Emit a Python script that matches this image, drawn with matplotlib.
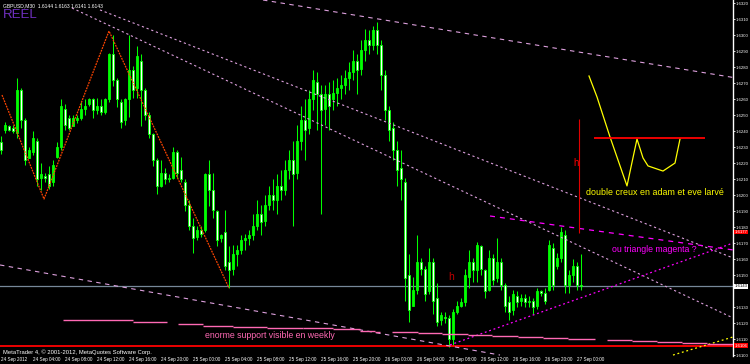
import matplotlib
matplotlib.use("Agg")
import matplotlib.pyplot as plt
import numpy as np
from matplotlib.transforms import blended_transform_factory

# ---------------- data ----------------
symbol = "GBPUSD,M30"

opens = [1.6233, 1.6241, 1.6243, 1.6242, 1.6239, 1.6266, 1.6247, 1.6223, 1.6227, 1.6234,
         1.6211, 1.6212, 1.6213, 1.6208, 1.6224, 1.6230, 1.6254, 1.6248, 1.6243, 1.6247,
         1.6248, 1.6254, 1.6257, 1.6260, 1.6253, 1.6256, 1.6252, 1.6260, 1.6288, 1.6272,
         1.6258, 1.6247, 1.6260, 1.6278, 1.6267, 1.6284, 1.6266, 1.6250, 1.6238, 1.6222,
         1.6206, 1.6214, 1.6210, 1.6211, 1.6227, 1.6216, 1.6208, 1.6194, 1.6181, 1.6174,
         1.6178, 1.6178, 1.6213, 1.6203, 1.6190, 1.6173, 1.6177, 1.6158, 1.6154, 1.6163,
         1.6166, 1.6172, 1.6173, 1.6175, 1.6181, 1.6188, 1.6184, 1.6194, 1.6200, 1.6197,
         1.6206, 1.6203, 1.6216, 1.6222, 1.6214, 1.6234, 1.6247, 1.6242, 1.6260, 1.6271,
         1.6263, 1.6254, 1.6263, 1.6260, 1.6264, 1.6267, 1.6269, 1.6273, 1.6277, 1.6284,
         1.6279, 1.6291, 1.6297, 1.6294, 1.6303, 1.6294, 1.6275, 1.6253, 1.6242, 1.6228,
         1.6217, 1.6208, 1.6150, 1.6131, 1.6141, 1.6158, 1.6154, 1.6140, 1.6158, 1.6136,
         1.6122, 1.6124, 1.6123, 1.6110, 1.6127, 1.6131, 1.6133, 1.6149, 1.6158, 1.6153,
         1.6168, 1.6153, 1.6141, 1.6161, 1.6148, 1.6158, 1.6144, 1.6133, 1.6128, 1.6137,
         1.6134, 1.6136, 1.6133, 1.6134, 1.6131, 1.6140, 1.6139, 1.6141, 1.6167, 1.6156,
         1.6161, 1.6175, 1.6144, 1.6150, 1.6156, 1.6144]
closes = [1.6228, 1.6244, 1.6241, 1.6240, 1.6266, 1.6247, 1.6222, 1.6228, 1.6236, 1.6210,
          1.6213, 1.6211, 1.6206, 1.6219, 1.6230, 1.6256, 1.6244, 1.6242, 1.6248, 1.6248,
          1.6254, 1.6256, 1.6260, 1.6253, 1.6256, 1.6252, 1.6260, 1.6288, 1.6272, 1.6260,
          1.6246, 1.6260, 1.6278, 1.6266, 1.6287, 1.6266, 1.6250, 1.6238, 1.6222, 1.6206,
          1.6214, 1.6210, 1.6211, 1.6227, 1.6214, 1.6210, 1.6194, 1.6181, 1.6173, 1.6178,
          1.6176, 1.6213, 1.6203, 1.6191, 1.6172, 1.6175, 1.6156, 1.6153, 1.6163, 1.6166,
          1.6172, 1.6173, 1.6175, 1.6181, 1.6188, 1.6183, 1.6194, 1.6200, 1.6197, 1.6206,
          1.6203, 1.6216, 1.6222, 1.6213, 1.6234, 1.6247, 1.6241, 1.6260, 1.6272, 1.6263,
          1.6253, 1.6263, 1.6256, 1.6264, 1.6267, 1.6269, 1.6273, 1.6277, 1.6284, 1.6278,
          1.6291, 1.6297, 1.6294, 1.6303, 1.6294, 1.6275, 1.6253, 1.6241, 1.6228, 1.6216,
          1.6210, 1.6148, 1.6128, 1.6141, 1.6158, 1.6154, 1.6138, 1.6158, 1.6134, 1.6121,
          1.6125, 1.6123, 1.6110, 1.6127, 1.6131, 1.6133, 1.6150, 1.6158, 1.6153, 1.6169,
          1.6154, 1.6140, 1.6161, 1.6147, 1.6158, 1.6144, 1.6131, 1.6127, 1.6138, 1.6133,
          1.6136, 1.6133, 1.6134, 1.6130, 1.6140, 1.6139, 1.6134, 1.6169, 1.6144, 1.6161,
          1.6177, 1.6144, 1.6150, 1.6156, 1.6144, 1.6143]
highs = [1.6237, 1.6246, 1.6244, 1.6244, 1.6273, 1.6267, 1.6248, 1.6230, 1.6240, 1.6236,
         1.6220, 1.6214, 1.6218, 1.6222, 1.6233, 1.6260, 1.6257, 1.6250, 1.6250, 1.6250,
         1.6258, 1.6260, 1.6261, 1.6261, 1.6261, 1.6260, 1.6261, 1.6289, 1.6300, 1.6273,
         1.6260, 1.6261, 1.6300, 1.6281, 1.6293, 1.6288, 1.6267, 1.6252, 1.6239, 1.6223,
         1.6222, 1.6217, 1.6213, 1.6230, 1.6228, 1.6224, 1.6210, 1.6197, 1.6186, 1.6181,
         1.6181, 1.6214, 1.6222, 1.6214, 1.6191, 1.6176, 1.6191, 1.6168, 1.6169, 1.6169,
         1.6175, 1.6176, 1.6178, 1.6188, 1.6197, 1.6194, 1.6200, 1.6206, 1.6210, 1.6213,
         1.6216, 1.6222, 1.6228, 1.6234, 1.6244, 1.6256, 1.6260, 1.6266, 1.6278, 1.6277,
         1.6269, 1.6269, 1.6271, 1.6272, 1.6273, 1.6275, 1.6278, 1.6283, 1.6291, 1.6288,
         1.6297, 1.6304, 1.6303, 1.6306, 1.6308, 1.6297, 1.6278, 1.6256, 1.6246, 1.6234,
         1.6228, 1.6211, 1.6163, 1.6149, 1.6175, 1.6161, 1.6156, 1.6167, 1.6161, 1.6145,
         1.6127, 1.6127, 1.6125, 1.6129, 1.6134, 1.6136, 1.6154, 1.6166, 1.6161, 1.6171,
         1.6169, 1.6154, 1.6166, 1.6163, 1.6173, 1.6161, 1.6145, 1.6137, 1.6141, 1.6140,
         1.6138, 1.6138, 1.6137, 1.6136, 1.6142, 1.6141, 1.6142, 1.6172, 1.6170, 1.6164,
         1.6180, 1.6178, 1.6153, 1.6160, 1.6158, 1.6163]
lows = [1.6226, 1.6239, 1.6240, 1.6239, 1.6236, 1.6242, 1.6219, 1.6223, 1.6225, 1.6206,
        1.6203, 1.6208, 1.6204, 1.6206, 1.6223, 1.6228, 1.6241, 1.6241, 1.6243, 1.6245,
        1.6247, 1.6250, 1.6256, 1.6248, 1.6251, 1.6250, 1.6251, 1.6258, 1.6268, 1.6255,
        1.6242, 1.6244, 1.6249, 1.6261, 1.6261, 1.6243, 1.6247, 1.6236, 1.6218, 1.6201,
        1.6205, 1.6207, 1.6208, 1.6210, 1.6211, 1.6208, 1.6190, 1.6178, 1.6164, 1.6172,
        1.6174, 1.6177, 1.6193, 1.6186, 1.6168, 1.6171, 1.6153, 1.6142, 1.6150, 1.6156,
        1.6163, 1.6166, 1.6169, 1.6172, 1.6178, 1.6175, 1.6181, 1.6191, 1.6191, 1.6188,
        1.6197, 1.6200, 1.6210, 1.6181, 1.6210, 1.6228, 1.6222, 1.6238, 1.6253, 1.6241,
        1.6188, 1.6244, 1.6241, 1.6253, 1.6256, 1.6260, 1.6263, 1.6266, 1.6272, 1.6263,
        1.6275, 1.6284, 1.6288, 1.6291, 1.6288, 1.6266, 1.6247, 1.6234, 1.6222, 1.6206,
        1.6197, 1.6134, 1.6121, 1.6131, 1.6138, 1.6150, 1.6134, 1.6138, 1.6126, 1.6118,
        1.6119, 1.6120, 1.6105, 1.6106, 1.6126, 1.6130, 1.6131, 1.6142, 1.6146, 1.6146,
        1.6150, 1.6136, 1.6140, 1.6144, 1.6146, 1.6141, 1.6127, 1.6122, 1.6125, 1.6130,
        1.6131, 1.6130, 1.6130, 1.6126, 1.6129, 1.6137, 1.6132, 1.6140, 1.6141, 1.6154,
        1.6158, 1.6139, 1.6139, 1.6146, 1.6141, 1.6141]

time_labels = ["24 Sep 2012", "24 Sep 04:00", "24 Sep 08:00", "24 Sep 12:00", "24 Sep 16:00",
               "24 Sep 20:00", "25 Sep 00:00", "25 Sep 04:00", "25 Sep 08:00", "25 Sep 12:00",
               "25 Sep 16:00", "25 Sep 20:00", "26 Sep 00:00", "26 Sep 04:00", "26 Sep 08:00",
               "26 Sep 12:00", "26 Sep 16:00", "26 Sep 20:00", "27 Sep 00:00"]
bars_per_label = 8

price_levels = [1.6320, 1.6310, 1.6300, 1.6290, 1.6280, 1.6270, 1.6260, 1.6250, 1.6240,
                1.6230, 1.6220, 1.6210, 1.6200, 1.6190, 1.6180, 1.6170, 1.6160, 1.6150,
                1.6130, 1.6120, 1.6110, 1.6100]

bid_price = closes[-1]
support_red_price = 1.6106
alert_red_price = 1.6177

# drawn objects (bar index, price)
zigzag_idx = [0.25, 10.75, 27.0, 57.0]
zigzag_price = [1.62626, 1.61976, 1.63026, 1.61420]

plum_dotted_lines = [((17.75, 1.63170), (183.0, 1.61233)),
                     ((24.75, 1.63158), (183.0, 1.61608))]
plum_dashed_lines = [((65.5, 1.63220), (183.0, 1.62736)),
                     ((-0.25, 1.61564), (124.75, 1.61001))]
magenta_dotted_line = ((112.25, 1.61064), (183.0, 1.61701))
magenta_dashed_line = ((122.25, 1.61870), (183.0, 1.61658))
yellow_dotted_line = ((168.0, 1.61001), (183.0, 1.61114))

weekly_step_start = [15.5, 33.0, 44.25, 50.5, 58.0, 66.5, 75.5, 83.0, 89.75, 93.5, 97.75,
                     104.25, 110.25, 116.75, 122.75, 129.25, 135.5, 141.75, 151.5, 157.75,
                     164.0, 170.25, 176.5]
weekly_step_end = [33.0, 41.5, 50.5, 58.0, 66.5, 75.5, 83.0, 89.75, 93.5, 94.75, 104.25,
                   110.25, 116.75, 122.75, 129.25, 135.5, 141.75, 148.5, 157.75, 164.0,
                   170.25, 176.5, 183.0]
weekly_step_price = [1.61220, 1.61208, 1.61195, 1.61183, 1.61176, 1.61173, 1.61170, 1.61164,
                     1.61151, 1.61145, 1.61145, 1.61139, 1.61133, 1.61126, 1.61120, 1.61114,
                     1.61108, 1.61101, 1.61095, 1.61089, 1.61083, 1.61076, 1.61070]

sketch_idx = [147.0, 149.0, 152.25, 154.25, 156.5, 157.5, 159.0, 160.5, 161.75, 165.5, 168.5, 169.75]
sketch_price = [1.62745, 1.62614, 1.62364, 1.62220, 1.62058, 1.62176, 1.62351, 1.62233,
                1.62183, 1.62151, 1.62201, 1.62351]
neckline = ((148.25, 176.0), 1.62358)
height_line = (144.5, 1.61764, 1.62476)

# ---------------- figure ----------------
W, H = 750, 364
fig = plt.figure(figsize=(W / 100, H / 100), dpi=100, facecolor="black")
ax = fig.add_axes([0, 8 / H, 733 / W, 356 / H], facecolor="black")
PRICE_TOP = 1.6322
PRICE_BOT = 1.6322 - 356 / 16000
ax.set_xlim(-0.25, 183.0)
ax.set_ylim(PRICE_BOT, PRICE_TOP)

FONT = "Liberation Sans"

o = np.array(opens); c = np.array(closes); h = np.array(highs); l = np.array(lows)
x = np.arange(len(o))
up = c >= o
lime = "#00ff00"
ax.vlines(x, l, h, color=lime, lw=0.75, zorder=2)
bottom = np.minimum(o, c)
height = np.maximum(np.abs(c - o), 0.00004)
ax.bar(x[up], height[up], 0.55, bottom=bottom[up], color=lime, edgecolor=lime, lw=0.6, zorder=2.1)
ax.bar(x[~up], height[~up], 0.55, bottom=bottom[~up], color="white", edgecolor=lime, lw=0.6, zorder=2.1)

# horizontal lines
ax.axhline(bid_price, color="#778899", lw=0.9, zorder=1.5)
ax.axhline(support_red_price, color="#ff0000", lw=1.3, zorder=3)

# zigzag
ax.plot(zigzag_idx, zigzag_price, color="#ff4500", lw=0.9, ls=(0, (1.5, 0.8)), zorder=3)

plum = "#dda0dd"
for (p0, p1) in plum_dotted_lines:
    ax.plot([p0[0], p1[0]], [p0[1], p1[1]], color=plum, lw=0.8, ls=(0, (2, 2.5)), zorder=3)
for (p0, p1) in plum_dashed_lines:
    ax.plot([p0[0], p1[0]], [p0[1], p1[1]], color=plum, lw=0.8, ls=(0, (4, 4)), zorder=3)

p0, p1 = magenta_dotted_line
ax.plot([p0[0], p1[0]], [p0[1], p1[1]], color="#ff00ff", lw=0.9, ls=(0, (1.5, 2.2)), zorder=3)
p0, p1 = magenta_dashed_line
ax.plot([p0[0], p1[0]], [p0[1], p1[1]], color="#ff00ff", lw=0.9, ls=(0, (4, 4)), zorder=3)
p0, p1 = yellow_dotted_line
ax.plot([p0[0], p1[0]], [p0[1], p1[1]], color="#ffff00", lw=0.9, ls=(0, (1.5, 2.2)), zorder=3)

ax.hlines(weekly_step_price, weekly_step_start, weekly_step_end, color="#ff69b4", lw=1.0, zorder=3)

ax.plot(sketch_idx, sketch_price, color="#ffff00", lw=0.9, zorder=3)
ax.hlines(neckline[1], neckline[0][0], neckline[0][1], color="#ff0000", lw=1.3, zorder=3)
ax.vlines(height_line[0], height_line[1], height_line[2], color="#e00000", lw=0.8, zorder=3)

# texts
ax.text(146.25, 1.62014, "double creux en adam et eve larvé", color="#ffff00", fontsize=6.4,
        family=FONT, va="center", ha="left", zorder=4)
ax.text(152.75, 1.61658, "ou triangle magenta ?", color="#ff00ff", fontsize=6.3,
        family=FONT, va="center", ha="left", zorder=4)
ax.text(51.0, 1.6112, "enorme support visible en weekly", color="#ff69b4", fontsize=6.3,
        family=FONT, va="center", ha="left", zorder=4)
ax.text(143.0, 1.62201, "h", color="#ff0000", fontsize=7, family=FONT, va="center", ha="left", zorder=4)
ax.text(111.75, 1.61489, "h", color="#c00000", fontsize=7.5, family=FONT, va="center", ha="left", zorder=4)

ax.text(0.004, 0.957, "REEL", transform=ax.transAxes, color="#7030c0", fontsize=9.5,
        family=FONT, va="center", ha="left")
header = f"{symbol}  {opens[-1]:.4f} {highs[-1]:.4f} {lows[-1]:.4f} {closes[-1]:.4f}"
ax.text(0.004, 0.985, header, transform=ax.transAxes, color="white", fontsize=3.6,
        family=FONT, va="center", ha="left")
ax.text(0.004, 0.01, "MetaTrader 4, © 2001-2012, MetaQuotes Software Corp.", transform=ax.transAxes,
        color="white", fontsize=4.2, family=FONT, va="center", ha="left")

# axes styling
for s in ["left", "top", "bottom"]:
    ax.spines[s].set_visible(False)
ax.spines["right"].set_color("white")
ax.spines["right"].set_linewidth(1.0)
ax.yaxis.tick_right()
ax.set_yticks(price_levels)
ax.set_yticklabels([f"{p:.4f}" for p in price_levels])
ax.tick_params(axis="y", colors="white", labelsize=3.1, length=1.2, width=0.6, pad=0.4)
ax.set_xticks(np.arange(len(time_labels)) * bars_per_label)
ax.set_xticklabels(time_labels)
ax.tick_params(axis="x", colors="white", labelsize=3.3, length=0, pad=1.0)
for lbl in ax.get_xticklabels() + ax.get_yticklabels():
    lbl.set_family(FONT)
for lbl in ax.get_xticklabels():
    lbl.set_ha("left")

trans = blended_transform_factory(ax.transAxes, ax.transData)
ax.text(1.0025, bid_price, f"{bid_price:.4f}", transform=trans, color="black", fontsize=3.1,
        family=FONT, va="center", ha="left", clip_on=False,
        bbox=dict(boxstyle="square,pad=0.1", facecolor="white", edgecolor="none"))
for p in (support_red_price, alert_red_price):
    ax.text(1.0025, p, f"{p:.4f}", transform=trans, color="white", fontsize=3.1,
            family=FONT, va="center", ha="left", clip_on=False,
            bbox=dict(boxstyle="square,pad=0.1", facecolor="#ff0000", edgecolor="none"))

fig.savefig("out.png", dpi=100, facecolor="black")
